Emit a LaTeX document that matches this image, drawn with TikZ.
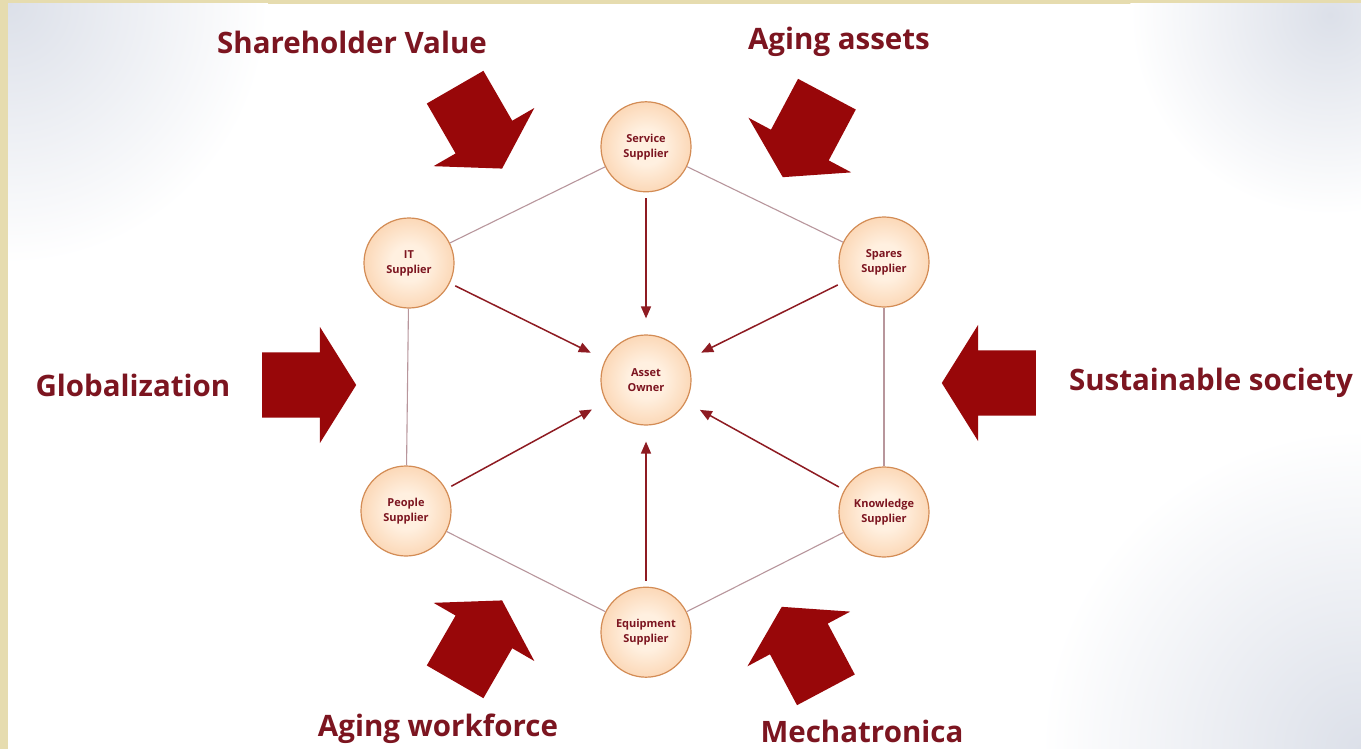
\documentclass[tikz,border=0pt]{standalone}
\usepackage{fontspec}
\setmainfont{Open Sans}
\usetikzlibrary{positioning, shapes.arrows, arrows.meta}
\definecolor{paper}{HTML}{E6DCAF}
\definecolor{haze}{HTML}{DCE0E9}
\definecolor{peachin}{HTML}{FFF0E0}
\definecolor{peachout}{HTML}{F6B175}
\definecolor{rim}{HTML}{D38C55}
\definecolor{wine}{HTML}{7C1520}
\definecolor{blockred}{HTML}{980709}
\definecolor{edgegrey}{HTML}{B8969C}
\definecolor{flowred}{HTML}{8E1B22}
\pgfdeclareradialshading{peachball}{\pgfpoint{0bp}{0bp}}{color(0bp)=(peachin); color(10bp)=(peachin); color(50bp)=(peachout)}
\newcommand{\suppl}[1]{#1\\Supplier}

\begin{document}
\begin{tikzpicture}[x=1pt, y=-1pt,
    actor/.style={circle, draw=rim, line width=1.2pt, shade, shading=peachball, minimum size=90pt, inner sep=0pt, align=center, text=wine, font=\bfseries\fontsize{11}{15}\selectfont},
    force/.style={single arrow, fill=blockred, minimum height=94pt, inner xsep=0pt, inner ysep=32.5pt, single arrow head extend=25.5pt, single arrow tip angle=116, anchor=tail},
    driver/.style={text=wine, font=\bfseries\fontsize{29.5}{32}\selectfont},
    link/.style={draw=edgegrey, line width=1.1pt},
    feed/.style={draw=flowred, line width=1.5pt, -{Triangle[length=12pt,width=10pt]}, shorten <=6pt, shorten >=16pt}]
			\useasboundingbox (0,0) rectangle (1361,749);
			% backdrop
			\fill[paper] (0,0) rectangle (1361,749);
			\begin{scope}
				\clip (8,4) rectangle (1361,749);
				\fill[white] (8,4) rectangle (1361,749);
				\shade[inner color=haze, outer color=white] (8,4) circle (260pt);
				\shade[inner color=haze, outer color=white] (1330,15) circle (200pt);
				\shade[inner color=haze, outer color=white] (1361,749) circle (320pt);
			\end{scope}

			\node[actor] (owner) at (646,380) {Asset\\Owner};
			\node[actor, above=142pt of owner] (service) {\suppl{Service}};
			\node[actor, below=161pt of owner] (equip) {\suppl{Equipment}};
			\node[actor] (itsup) at (409,263) {\suppl{IT}};
			\node[actor] (spares) at (884,262) {\suppl{Spares}};
			\node[actor] (people) at (406,511) {\suppl{People}};
			\node[actor] (knowledge) at (884,512) {\suppl{Knowledge}};

			\draw[link] (service) -- (itsup);
			\draw[link] (itsup) -- (people);
			\draw[link] (people) -- (equip);
			\draw[link] (equip) -- (knowledge);
			\draw[link] (knowledge) -- (spares);
			\draw[link] (spares) -- (service);

			\draw[feed] (service) -- (owner);
			\draw[feed] (itsup) -- (owner);
			\draw[feed] (spares) -- (owner);
			\draw[feed] (people) -- (owner);
			\draw[feed] (knowledge) -- (owner);
			\draw[feed] (equip) -- (owner);

			% outside pressures
			\node[force, rotate=-60] (pushshare) at (455,87) {};
			\node[force, rotate=-118] (pushaging) at (827,94) {};
			\node[force] (pushglobal) at (262,385) {};
			\node[force, rotate=180] (pushsustain) at (1036,383) {};
			\node[force, rotate=60] (pushworkforce) at (455,682) {};
			\node[force, rotate=118] (pushmecha) at (826,690) {};

			\node[driver] (share) at (352,42) {Shareholder Value};
			\node[driver] (aging) at (839,42) {Aging assets};
			\node[driver] (global) at (133,385) {Globalization};
			\node[driver] (sustain) at (1211,383) {Sustainable society};
			\node[driver] (workforce) at (438,729) {Aging workforce};
			\node[driver] (mecha) at (862,731) {Mechatronica};
		\end{tikzpicture}
\end{document}
